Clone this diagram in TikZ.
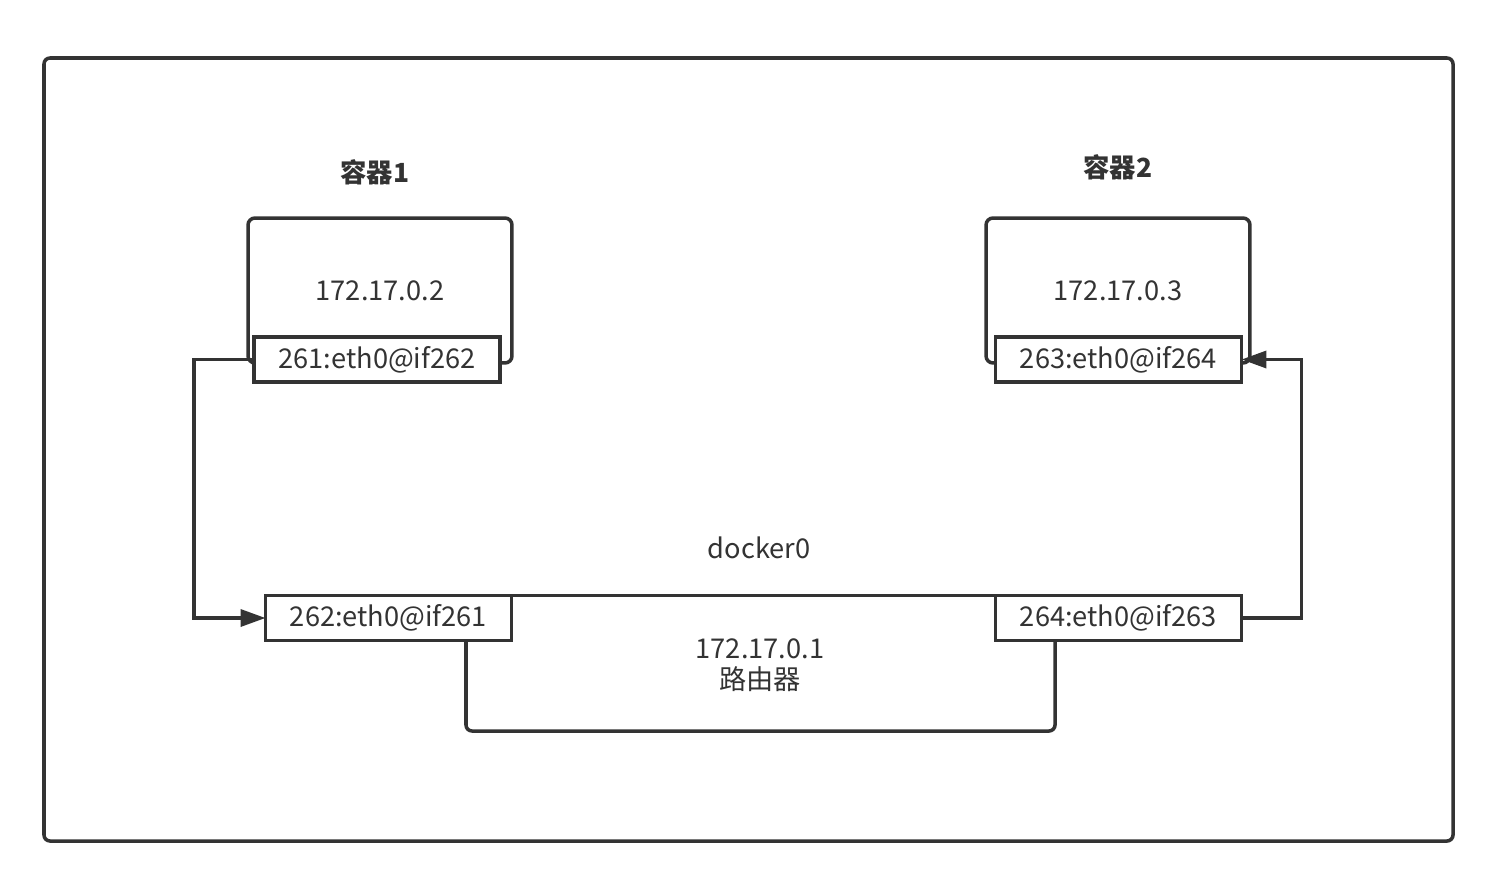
\documentclass[tikz,border=0pt]{standalone}
\usepackage{fontspec}
\setmainfont{Noto Sans CJK SC}
\usepackage{tikz}
\usetikzlibrary{positioning, arrows.meta}
\definecolor{linegray}{HTML}{333333}
\tikzstyle{frame} = [
    draw = linegray,
    line width = 2pt,
    rounded corners = 0.12cm
]
\tikzstyle{container} = [
    rectangle,
    draw = linegray,
    line width = 2pt,
    text centered,
    rounded corners = 0.14cm,
    minimum width = 5.28cm,
    minimum height = 2.9cm
]
\tikzstyle{port} = [
    rectangle,
    draw = linegray,
    fill = white,
    line width = 2pt,
    outer sep = 0pt,
    text centered,
    minimum width = 4.92cm,
    minimum height = 0.9cm
]
\tikzstyle{title} = [
    font = \fontsize{15pt}{18pt}\selectfont\bfseries
]
\tikzstyle{link} = [
    draw = linegray,
    line width = 2pt,
    -{Triangle[length = 0.5cm, width = 0.34cm]}
]

\begin{document}
\begin{tikzpicture}[x = 0.02cm, y = -0.02cm, text = linegray,
    font = \fontsize{15.5pt}{19pt}\selectfont]

    \useasboundingbox (0,0) rectangle (1504,892);

    % host
    \draw [frame] (44,58) rectangle (1453,841);

    % container 1
    \node [container] (ctr1) at (380,290.5) {172.17.0.2};
    \node [title, above = 0.5cm of ctr1, xshift = -0.1cm] (ctr1Title) {容器1};
    \node [port] (p261) at (377,359.5) {261:eth0@if262};

    % container 2
    \node [container] (ctr2) at (1118,290.5) {172.17.0.3};
    \node [title, above = 0.6cm of ctr2] (ctr2Title) {容器2};
    \node [port] (p263) at (1118.5,359.5) {263:eth0@if264};

    % docker0
    \coordinate (brLeft) at (466,640);
    \coordinate (brRight) at (1055,640);
    \node [port] (p262) at (388.5,618) {262:eth0@if261};
    \node [port] (p264) at (1118.5,618) {264:eth0@if263};
    \node (bridgeTitle) at (759,548) {docker0};
    \draw [frame] (p262.north east) -- (p264.north west);
    \draw [frame] (brLeft) -- ++(0,91) -- ++(589,0) -- (brRight);
    \node [align = center, font = \fontsize{15.5pt}{17.5pt}\selectfont] (router) at (760,665) {172.17.0.1\\路由器};

    % veth pairs
    \draw [link] (p261.west) -- ++(-1.2cm,0) |- (p262.west);
    \draw [link] (p264.east) -- ++(1.2cm,0) |- (p263.east);

\end{tikzpicture}
\end{document}
